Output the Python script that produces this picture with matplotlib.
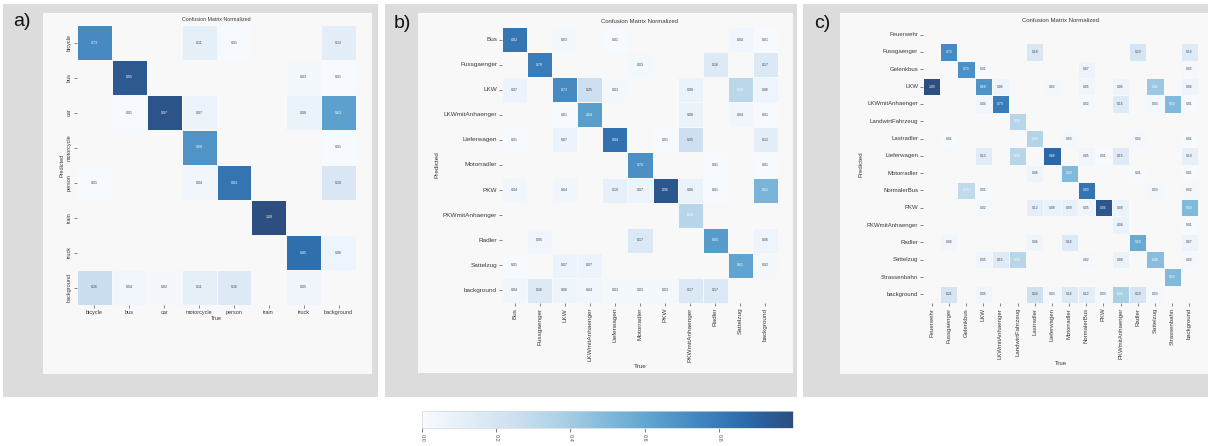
import numpy as np
import matplotlib
matplotlib.use("Agg")
import matplotlib.pyplot as plt
from matplotlib.colors import ListedColormap, Normalize
from matplotlib.cm import ScalarMappable

plt.rcParams['font.family'] = ['Liberation Sans', 'DejaVu Sans']

# ---------------- data ----------------
classes_a = ["bicycle", "bus", "car", "motorcycle", "person", "train", "truck", "background"]
cm_a = [
    [0.73, 0, 0, 0.11, 0.01, 0, 0, 0.12],
    [0, 0.95, 0, 0, 0, 0, 0.03, 0.01],
    [0, 0.01, 0.97, 0.07, 0, 0, 0.08, 0.63],
    [0, 0, 0, 0.68, 0, 0, 0, 0.01],
    [0.01, 0, 0, 0.04, 0.83, 0, 0, 0.18],
    [0, 0, 0, 0, 0, 1.00, 0, 0],
    [0, 0, 0, 0, 0, 0, 0.85, 0.06],
    [0.26, 0.04, 0.02, 0.11, 0.16, 0, 0.05, 0],
]

classes_b = ["Bus", "Fussgaenger", "LKW", "LKWmitAnhaenger", "Lieferwagen", "Motorradler",
             "PKW", "PKWmitAnhaenger", "Radler", "Sattelzug", "background"]
cm_b = [
    [0.82, 0, 0.03, 0, 0.01, 0, 0, 0, 0, 0.04, 0.01],
    [0, 0.79, 0, 0, 0, 0.03, 0, 0, 0.16, 0, 0.17],
    [0.07, 0, 0.73, 0.25, 0.03, 0, 0, 0.08, 0, 0.32, 0.06],
    [0, 0, 0.01, 0.64, 0, 0, 0, 0.08, 0, 0.04, 0.01],
    [0.01, 0, 0.07, 0, 0.84, 0, 0.01, 0.25, 0, 0, 0.12],
    [0, 0, 0, 0, 0, 0.70, 0, 0, 0.01, 0, 0.01],
    [0.04, 0, 0.04, 0, 0.10, 0.07, 0.96, 0.08, 0.01, 0, 0.52],
    [0, 0, 0, 0, 0, 0, 0, 0.33, 0, 0, 0],
    [0, 0.05, 0, 0, 0, 0.17, 0, 0, 0.65, 0, 0.06],
    [0.01, 0, 0.07, 0.07, 0, 0, 0, 0, 0, 0.61, 0.02],
    [0.04, 0.16, 0.06, 0.04, 0.03, 0.03, 0.03, 0.17, 0.17, 0, 0],
]

classes_c = ["Feuerwehr", "Fussgaenger", "Gelenkbus", "LKW", "LKWmitAnhaenger", "LandwirtFahrzeug",
             "Lastradler", "Lieferwagen", "Motorradler", "NormalerBus", "PKW", "PKWmitAnhaenger",
             "Radler", "Sattelzug", "Strassenbahn", "background"]
cm_c = [
    [0, 0, 0, 0, 0, 0, 0, 0, 0, 0, 0, 0, 0, 0, 0, 0],
    [0, 0.73, 0, 0, 0, 0, 0.18, 0, 0, 0, 0, 0, 0.20, 0, 0, 0.15],
    [0, 0, 0.70, 0.01, 0, 0, 0, 0, 0, 0.07, 0, 0, 0, 0, 0, 0.02],
    [1.00, 0, 0, 0.68, 0.06, 0, 0, 0.02, 0, 0.05, 0, 0.06, 0, 0.42, 0, 0.06],
    [0, 0, 0, 0.04, 0.79, 0, 0, 0, 0, 0.02, 0, 0.15, 0, 0.03, 0.50, 0.01],
    [0, 0, 0, 0, 0, 0.33, 0, 0, 0, 0, 0, 0, 0, 0, 0, 0],
    [0, 0.01, 0, 0, 0, 0, 0.35, 0, 0.03, 0, 0, 0, 0.02, 0, 0, 0.01],
    [0, 0, 0, 0.13, 0, 0.33, 0, 0.88, 0, 0.05, 0.01, 0.15, 0, 0, 0, 0.10],
    [0, 0, 0, 0, 0, 0, 0.06, 0, 0.50, 0, 0, 0, 0.01, 0, 0, 0.01],
    [0, 0, 0.30, 0.01, 0, 0, 0, 0, 0, 0.83, 0, 0, 0, 0.03, 0, 0.02],
    [0, 0, 0, 0.02, 0, 0, 0.12, 0.08, 0.09, 0.05, 0.96, 0.08, 0, 0, 0, 0.50],
    [0, 0, 0, 0, 0, 0, 0, 0, 0, 0, 0, 0.08, 0, 0, 0, 0.01],
    [0, 0.04, 0, 0, 0, 0, 0.06, 0, 0.16, 0, 0, 0, 0.58, 0, 0, 0.07],
    [0, 0, 0, 0.05, 0.15, 0.33, 0, 0, 0, 0.02, 0, 0.08, 0, 0.48, 0, 0.03],
    [0, 0, 0, 0, 0, 0, 0, 0, 0, 0, 0, 0, 0, 0, 0.50, 0],
    [0, 0.21, 0, 0.05, 0, 0, 0.24, 0.03, 0.16, 0.12, 0.03, 0.38, 0.20, 0.03, 0, 0],
]

colorbar_ticks = [0.0, 0.2, 0.4, 0.6, 0.8]

# ---------------- style ----------------
W, H = 1208, 446
FRAME = "#dcdcdc"
PANEL = "#f8f8f8"
TXT = "#3a3a3a"

base = plt.get_cmap("Blues")(np.linspace(0, 1, 256))
bg_rgb = np.array([0.973, 0.973, 0.973])
blend = base.copy()
blend[:, :3] = 0.85 * base[:, :3] + 0.15 * bg_rgb
cmap = ListedColormap(blend)
norm = Normalize(0, 1)

fig = plt.figure(figsize=(W / 100, H / 100), dpi=100)
fig.patch.set_facecolor("white")


def px_axes(x0, y0, x1, y1, **kw):
    return fig.add_axes([x0 / W, 1 - y1 / H, (x1 - x0) / W, (y1 - y0) / H], **kw)


def rect(x0, y0, x1, y1, color, z):
    fig.patches.append(plt.Rectangle((x0 / W, 1 - y1 / H), (x1 - x0) / W, (y1 - y0) / H,
                                     transform=fig.transFigure, facecolor=color,
                                     edgecolor="none", zorder=z))


def draw_matrix(box, labels, values, inner, frame, tag, tag_xy, tick_fs, title_fs,
                ann_fs, rot_y=False, rot_x=False):
    rect(*frame, FRAME, -3)
    rect(*inner, PANEL, -2)
    fig.text(tag_xy[0] / W, 1 - tag_xy[1] / H, tag, fontsize=14, color="#111111",
             ha="left", va="center")
    ax = px_axes(*box)
    ax.set_facecolor("none")
    vals = np.array(values, dtype=float)
    n = len(labels)
    data = np.ma.masked_equal(vals, 0)
    ax.pcolormesh(np.arange(n + 1), np.arange(n + 1), data, cmap=cmap, norm=norm,
                  edgecolors=PANEL, linewidth=0.6)
    ax.set_xlim(0, n)
    ax.set_ylim(n, 0)
    for i in range(n):
        for j in range(n):
            v = vals[i, j]
            if v > 0:
                ax.text(j + 0.5, i + 0.5, f"{v:.2f}", ha="center", va="center",
                        fontsize=ann_fs, color="white" if v >= 0.3 else "#444444")
    ax.set_xticks(np.arange(n) + 0.5)
    ax.set_yticks(np.arange(n) + 0.5)
    ax.set_xticklabels(labels, rotation=90 if rot_x else 0, fontsize=tick_fs, color=TXT)
    ax.set_yticklabels(labels, rotation=90 if rot_y else 0, fontsize=tick_fs, color=TXT,
                       va="center")
    ax.tick_params(length=2, width=0.5, color="#555555", pad=1.5)
    for s in ax.spines.values():
        s.set_visible(False)
    ax.set_title("Confusion Matrix Normalized", fontsize=title_fs, color=TXT, pad=3)
    ax.set_xlabel("True", fontsize=tick_fs, color=TXT, labelpad=1)
    ax.set_ylabel("Predicted", fontsize=tick_fs, color=TXT, labelpad=2)
    return ax


draw_matrix((77, 25, 356, 305), classes_a, cm_a,
            inner=(43, 13, 372, 374), frame=(3, 4, 378, 397), tag="a)", tag_xy=(13, 21),
            tick_fs=4.0, title_fs=3.8, ann_fs=2.6, rot_y=True)

draw_matrix((502, 27, 778, 303), classes_b, cm_b,
            inner=(418, 13, 793, 373), frame=(385, 4, 797, 397), tag="b)", tag_xy=(394, 24),
            tick_fs=4.6, title_fs=4.3, ann_fs=2.6, rot_x=True)

draw_matrix((923, 26, 1198, 303), classes_c, cm_c,
            inner=(840, 13, 1208, 374), frame=(803, 4, 1208, 397), tag="c)", tag_xy=(814, 24),
            tick_fs=4.3, title_fs=4.3, ann_fs=2.4, rot_x=True)

# shared colour bar
cax = px_axes(422, 411, 793, 428)
cb = fig.colorbar(ScalarMappable(norm=norm, cmap=cmap), cax=cax, orientation="horizontal",
                  ticks=colorbar_ticks)
cb.outline.set_edgecolor("#d0d8e0")
cb.outline.set_linewidth(0.5)
cb.ax.set_xticklabels([f"{t:.1f}" for t in colorbar_ticks], rotation=-90, fontsize=4,
                      color="#555555")
cb.ax.tick_params(length=3, width=0.6, color="#666666", pad=1)

fig.savefig("out.png", dpi=100, facecolor="white")
